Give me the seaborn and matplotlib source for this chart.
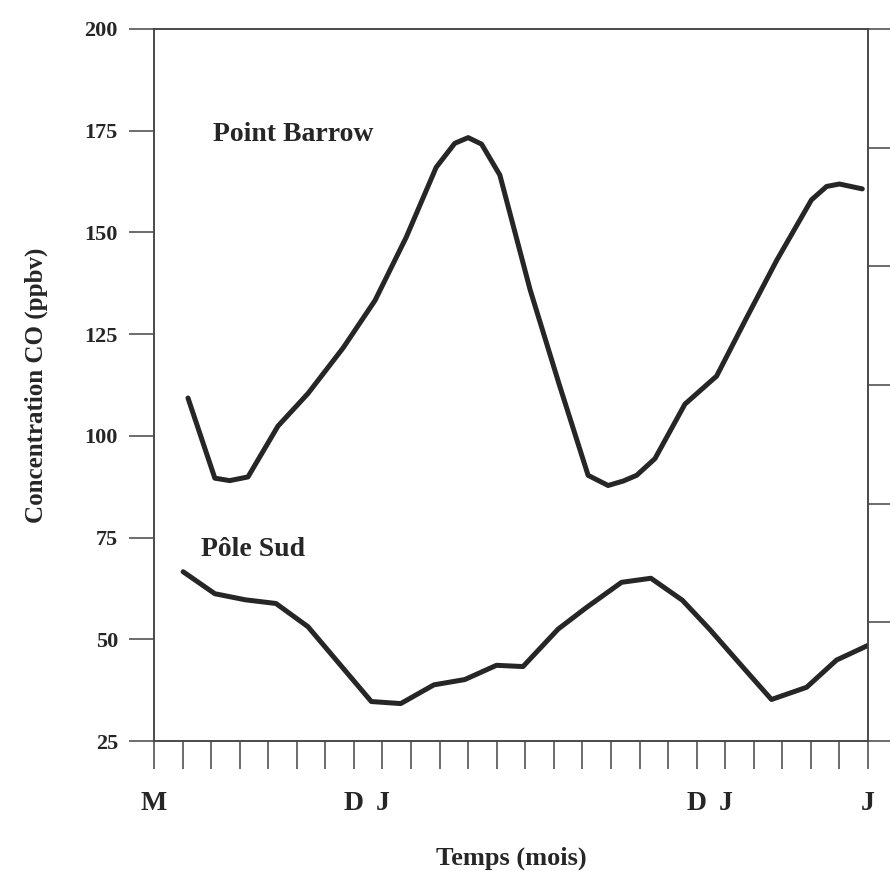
import numpy as np
import pandas as pd
import matplotlib
matplotlib.use("Agg")
import matplotlib.pyplot as plt
import seaborn as sns

# months counted from May (0) to June two years later (25)
barrow_month = [1.19, 2.13, 2.65, 3.29, 4.34, 5.39, 6.62, 7.74, 8.83, 9.88,
                10.53, 11.0, 11.47, 12.11, 13.17, 14.19, 15.2, 15.9, 16.43, 16.9,
                17.54, 18.59, 19.7, 20.74, 21.8, 23.02, 23.55, 24.0, 24.8]
barrow_co = [109.3, 89.6, 89.0, 89.9, 102.4, 110.4, 121.6, 133.3, 148.8, 166.0,
             171.9, 173.3, 171.7, 164.1, 135.9, 112.6, 90.3, 87.8, 88.9, 90.3,
             94.4, 107.8, 114.7, 128.9, 143.1, 158.0, 161.3, 161.9, 160.7]

sud_month = [1.02, 2.13, 3.2, 4.27, 5.39, 7.61, 8.64, 9.8, 10.88, 11.99, 12.92,
             14.15, 15.14, 16.37, 17.4, 18.5, 19.45, 20.6, 21.62, 22.85, 23.9, 25.0]
sud_co = [66.6, 61.2, 59.7, 58.8, 53.1, 34.7, 34.2, 38.8, 40.1, 43.6, 43.3,
          52.5, 57.8, 64.0, 65.0, 59.6, 52.5, 43.3, 35.2, 38.2, 44.9, 48.5]

month_ticks = list(range(26))
month_labels = {0: "M", 7: "D", 8: "J", 19: "D", 20: "J", 25: "J"}
y_ticks = [25, 50, 75, 100, 125, 150, 175, 200]

sns.set_style("ticks")
plt.rcParams["font.family"] = ["Liberation Serif", "DejaVu Serif"]
plt.rcParams["font.weight"] = "bold"

df = pd.concat([
    pd.DataFrame({"mois": barrow_month, "co": barrow_co, "site": "Point Barrow"}),
    pd.DataFrame({"mois": sud_month, "co": sud_co, "site": "Pôle Sud"}),
])

fig = plt.figure(figsize=(8.9, 8.71), dpi=100)
ax = fig.add_axes([154 / 890, 1 - 741 / 871, 714 / 890, 712 / 871])

sns.lineplot(data=df, x="mois", y="co", units="site", estimator=None,
             color="#262626", linewidth=3.6, ax=ax, sort=False)

ax.set_xlim(0, 25)
ax.set_ylim(25, 200)
ax.set_xticks(month_ticks)
ax.set_xticklabels([month_labels.get(m, "") for m in month_ticks], fontsize=20, fontweight="bold")
ax.set_yticks(y_ticks)
ax.set_yticklabels([str(v) for v in y_ticks], fontsize=16, fontweight="bold")
ax.tick_params(axis="x", length=20, width=1.1, color="#444444", pad=16)
ax.tick_params(axis="y", length=18, width=1.1, color="#444444", pad=8)
for s in ax.spines.values():
    s.set_visible(True)
    s.set_linewidth(1.1)
    s.set_color("#444444")

ax.set_xlabel("Temps (mois)", fontsize=19, fontweight="bold", labelpad=22)
ax.set_ylabel("Concentration CO (ppbv)", fontsize=18, fontweight="bold", labelpad=26)

ax.text(2.05, 174, "Point Barrow", fontsize=20, fontweight="bold", va="center", ha="left")
ax.text(1.65, 72, "Pôle Sud", fontsize=20, fontweight="bold", va="center", ha="left")

# unlabeled scale on the right-hand side
ax2 = ax.twinx()
ax2.set_ylim(0, 6)
ax2.set_yticks(range(7))
ax2.set_yticklabels([""] * 7)
ax2.tick_params(axis="y", length=20, width=1.1, color="#444444")
for s in ax2.spines.values():
    s.set_linewidth(1.1)
    s.set_color("#444444")

fig.savefig("out.png", dpi=100)
